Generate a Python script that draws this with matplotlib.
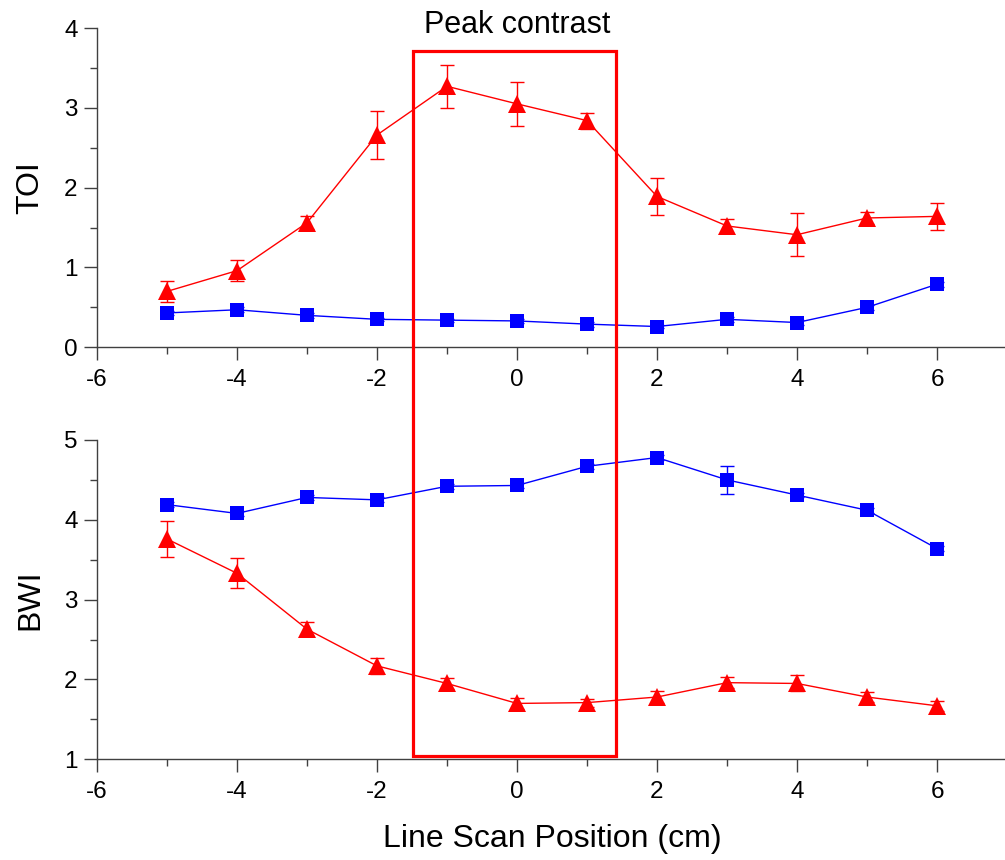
import matplotlib.pyplot as plt
from matplotlib.patches import Rectangle

plt.rcParams['font.family'] = ['Liberation Sans', 'DejaVu Sans']
plt.rcParams['axes.unicode_minus'] = False

# line scan positions (cm)
pos = [-5, -4, -3, -2, -1, 0, 1, 2, 3, 4, 5, 6]

# TOI
toi_red = [0.70, 0.96, 1.56, 2.66, 3.27, 3.05, 2.84, 1.89, 1.52, 1.41, 1.62, 1.64]
toi_red_err = [0.13, 0.13, 0.08, 0.30, 0.27, 0.28, 0.10, 0.23, 0.09, 0.27, 0.07, 0.17]
toi_blue = [0.43, 0.47, 0.40, 0.35, 0.34, 0.33, 0.29, 0.26, 0.35, 0.31, 0.50, 0.79]
toi_blue_err = [0.03, 0.03, 0.03, 0.02, 0.02, 0.02, 0.03, 0.02, 0.03, 0.03, 0.03, 0.03]

# BWI
bwi_blue = [4.19, 4.08, 4.28, 4.25, 4.42, 4.43, 4.67, 4.78, 4.50, 4.31, 4.12, 3.64]
bwi_blue_err = [0.03, 0.03, 0.03, 0.03, 0.03, 0.03, 0.03, 0.03, 0.18, 0.03, 0.03, 0.03]
bwi_red = [3.76, 3.33, 2.63, 2.17, 1.95, 1.70, 1.71, 1.78, 1.96, 1.95, 1.78, 1.67]
bwi_red_err = [0.23, 0.19, 0.09, 0.10, 0.07, 0.07, 0.05, 0.07, 0.07, 0.10, 0.06, 0.06]

# "peak contrast" box: x from/to, top in TOI units, bottom in BWI units
box_x = (-1.48, 1.42)
box_top_toi = 3.71
box_bottom_bwi = 1.04

RED = '#ff0000'
BLUE = '#0000ff'
AXC = '#404040'

fig = plt.figure(figsize=(10.05, 8.6), dpi=100)
ax_top = fig.add_axes([0.0965, 0.5962, 0.9055, 0.3712])
ax_bot = fig.add_axes([0.0965, 0.1171, 0.9055, 0.3713])


def style(ax, ylim, ylabel):
    ax.set_xlim(-6, 7)
    ax.set_ylim(*ylim)
    for s in ['top', 'right']:
        ax.spines[s].set_visible(False)
    for s in ['left', 'bottom']:
        ax.spines[s].set_color(AXC)
        ax.spines[s].set_linewidth(1.0)
    ax.set_xticks(range(-6, 7, 2))
    ax.set_xticks(range(-5, 7, 2), minor=True)
    ax.set_yticks(range(int(ylim[0]), int(ylim[1]) + 1))
    ax.set_yticks([v + 0.5 for v in range(int(ylim[0]), int(ylim[1]))], minor=True)
    ax.tick_params(which='major', direction='out', length=9.4, width=1.0,
                   color=AXC, labelsize=17.5)
    ax.tick_params(axis='x', which='major', pad=6)
    ax.tick_params(axis='y', which='major', pad=4.5)
    ax.tick_params(which='minor', direction='out', length=5, width=1.0, color=AXC)
    ax.set_ylabel(ylabel, fontsize=23)
    ax.yaxis.set_label_coords(-0.057, 0.5)


def series(ax, y, err, color, marker, ms):
    ax.errorbar(pos, y, yerr=err, fmt='none', ecolor=color, elinewidth=1.0,
                capsize=5, capthick=1.0, clip_on=False, zorder=3)
    ax.plot(pos, y, color=color, marker=marker, markersize=ms, linewidth=1.0,
            markeredgewidth=0, clip_on=False, zorder=4)


series(ax_top, toi_blue, toi_blue_err, BLUE, 's', 10)
series(ax_top, toi_red, toi_red_err, RED, '^', 13)
style(ax_top, (0, 4), 'TOI')

series(ax_bot, bwi_blue, bwi_blue_err, BLUE, 's', 10)
series(ax_bot, bwi_red, bwi_red_err, RED, '^', 13)
style(ax_bot, (1, 5), 'BWI')
ax_bot.set_xlabel('Line Scan Position (cm)', fontsize=23, labelpad=15)

ax_top.text(0, 3.94, 'Peak contrast', fontsize=22, ha='center', va='baseline',
            transform=ax_top.transData, clip_on=False)

# box spanning both panels, drawn in figure coordinates
to_fig = fig.transFigure.inverted()
x0, y1 = to_fig.transform(ax_top.transData.transform((box_x[0], box_top_toi)))
x1, y0 = to_fig.transform(ax_bot.transData.transform((box_x[1], box_bottom_bwi)))
fig.patches.append(Rectangle((x0, y0), x1 - x0, y1 - y0, transform=fig.transFigure,
                             fill=False, edgecolor=RED, linewidth=2.3, zorder=5))

fig.savefig('out.png', dpi=100)
